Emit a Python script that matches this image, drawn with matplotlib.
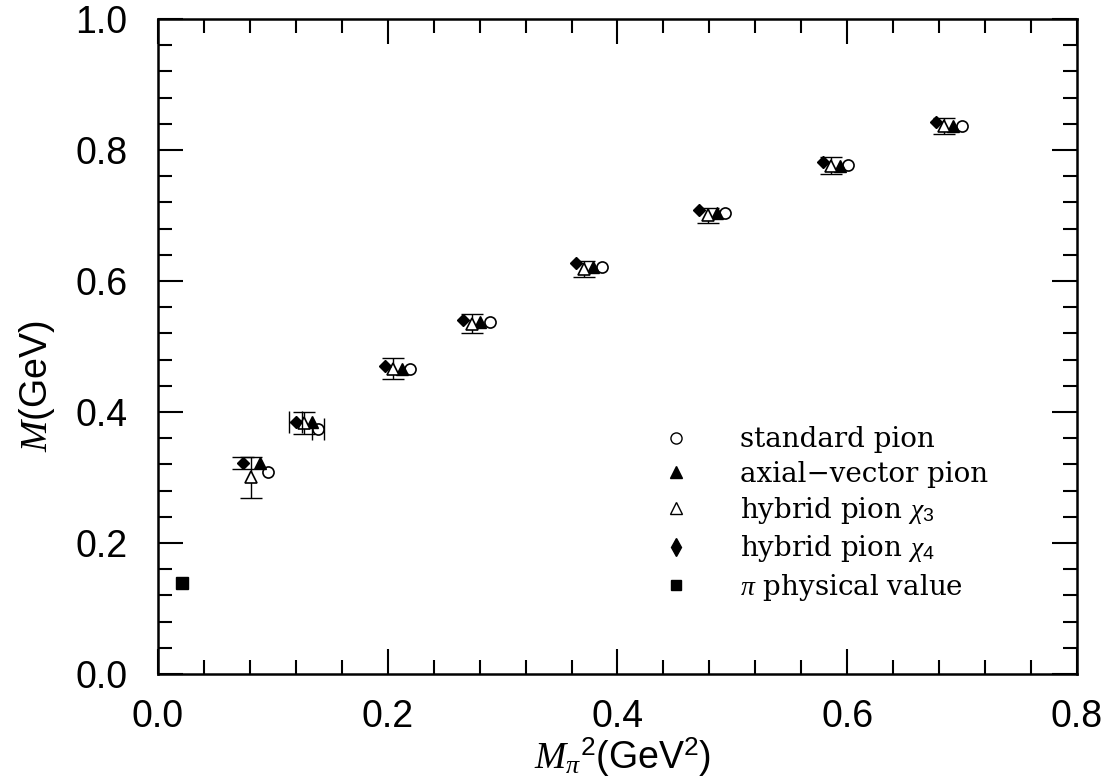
import matplotlib
matplotlib.use("Agg")
import matplotlib.pyplot as plt
from matplotlib.lines import Line2D
from matplotlib.ticker import MultipleLocator, FormatStrFormatter

plt.rcParams["mathtext.fontset"] = "custom"
plt.rcParams["mathtext.rm"] = "Liberation Sans"
plt.rcParams["mathtext.it"] = "Liberation Serif:italic"
plt.rcParams["mathtext.cal"] = "Liberation Serif:italic"

# pion mass squared (GeV^2) and mass (GeV) for each operator
std_x = [0.0955, 0.1395, 0.2193, 0.2889, 0.3864, 0.4935, 0.6008, 0.6997]
std_y = [0.308, 0.374, 0.466, 0.537, 0.621, 0.704, 0.777, 0.837]
std_xerr = [0.0, 0.0052, 0.0, 0.0, 0.0, 0.0, 0.0, 0.0]

axv_x = [0.0888, 0.1343, 0.2124, 0.2802, 0.3786, 0.4865, 0.5936, 0.6919]
axv_y = [0.322, 0.384, 0.466, 0.537, 0.621, 0.704, 0.776, 0.837]

hy3_x = [0.0809, 0.1273, 0.2045, 0.2733, 0.3708, 0.4787, 0.5863, 0.6841]
hy3_y = [0.300, 0.383, 0.466, 0.535, 0.618, 0.700, 0.776, 0.837]
hy3_yerr = [0.032, 0.017, 0.016, 0.0145, 0.012, 0.012, 0.0126, 0.012]

hy4_x = [0.0742, 0.1198, 0.1976, 0.2654, 0.3638, 0.4708, 0.5785, 0.6771]
hy4_y = [0.322, 0.384, 0.470, 0.541, 0.628, 0.708, 0.781, 0.843]
hy4_xerr = [0.0, 0.0058, 0.0, 0.0, 0.0, 0.0, 0.0, 0.0]
hy4_yerr = [0.0095, 0.0, 0.0, 0.0, 0.0, 0.0, 0.0, 0.0]

phys_x = [0.0206]
phys_y = [0.1394]

labels = ["standard pion", "axial\u2212vector pion", r"hybrid pion $\chi_{3}$",
          r"hybrid pion $\chi_{4}$", r"$\pi$ physical value"]

fig = plt.figure(figsize=(11.12, 7.84), dpi=100)
ax = fig.add_axes([0.1421, 0.1403, 0.8264, 0.8355])

ebkw = dict(fmt="none", ecolor="black", elinewidth=1.0, capsize=8, capthick=1.0)


def bars(x, y, xerr=None, yerr=None, z=1):
    """Draw error bars only where an uncertainty is quoted."""
    n = len(x)
    xe = xerr if xerr is not None else [0.0] * n
    ye = yerr if yerr is not None else [0.0] * n
    ix = [i for i in range(n) if xe[i] > 0]
    iy = [i for i in range(n) if ye[i] > 0]
    if ix:
        ax.errorbar([x[i] for i in ix], [y[i] for i in ix],
                    xerr=[xe[i] for i in ix], zorder=z, **ebkw)
    if iy:
        ax.errorbar([x[i] for i in iy], [y[i] for i in iy],
                    yerr=[ye[i] for i in iy], zorder=z, **ebkw)


bars(std_x, std_y, xerr=std_xerr, z=1.5)
bars(hy3_x, hy3_y, yerr=hy3_yerr, z=3.5)
bars(hy4_x, hy4_y, xerr=hy4_xerr, yerr=hy4_yerr, z=4.5)

ax.plot(std_x, std_y, "o", ms=8, mfc="white", mec="black", mew=1.2, ls="none", zorder=2)
ax.plot(axv_x, axv_y, "^", ms=9, mfc="black", mec="black", ls="none", zorder=3)
ax.plot(hy3_x, hy3_y, "^", ms=9, mfc="white", mec="black", mew=1.2, ls="none", zorder=4)
ax.plot(hy4_x, hy4_y, "D", ms=6.5, mfc="black", mec="black", ls="none", zorder=5)
ax.plot(phys_x, phys_y, "s", ms=8, mfc="black", mec="black", ls="none", zorder=5)

handles = [
    Line2D([], [], marker="o", ms=8, mfc="white", mec="black", mew=1.0, ls="none"),
    Line2D([], [], marker="^", ms=9, mfc="black", mec="black", ls="none"),
    Line2D([], [], marker="^", ms=9, mfc="white", mec="black", mew=1.0, ls="none"),
    Line2D([], [], marker="d", ms=9, mfc="black", mec="black", ls="none"),
    Line2D([], [], marker="s", ms=7.5, mfc="black", mec="black", ls="none"),
]
ax.legend(handles, labels, loc="upper left", bbox_to_anchor=(0.536, 0.395),
          frameon=False, handlelength=1.0, handletextpad=1.82, labelspacing=0.265,
          borderaxespad=0.0, prop={"family": "DejaVu Serif", "size": 20})

ax.set_xlim(0.0, 0.8)
ax.set_ylim(0.0, 1.0)
ax.xaxis.set_major_locator(MultipleLocator(0.2))
ax.xaxis.set_minor_locator(MultipleLocator(0.04))
ax.yaxis.set_major_locator(MultipleLocator(0.2))
ax.yaxis.set_minor_locator(MultipleLocator(0.04))
ax.xaxis.set_major_formatter(FormatStrFormatter("%.1f"))
ax.yaxis.set_major_formatter(FormatStrFormatter("%.1f"))
ax.tick_params(which="both", direction="in", top=True, right=True, width=1.5)
ax.tick_params(which="major", length=18, labelsize=27)
ax.tick_params(axis="x", which="major", pad=18)
ax.tick_params(axis="y", which="major", pad=22)
ax.tick_params(which="minor", length=10)
for lab in ax.get_xticklabels() + ax.get_yticklabels():
    lab.set_family("Liberation Sans")
for sp in ax.spines.values():
    sp.set_linewidth(1.8)

ax.set_xlabel(r"$\mathit{M}_{\pi}{}^{2}$(GeV$^{2}$)", family="Liberation Sans",
              fontsize=27)
ax.set_ylabel(r"$\mathit{M}$(GeV)", family="Liberation Sans", fontsize=27)
ax.xaxis.set_label_coords(0.505, -0.127)
ax.yaxis.set_label_coords(-0.132, 0.44)
ax.xaxis.label.set_va("center")
ax.yaxis.label.set_va("center")

fig.savefig("out.png", dpi=100)
